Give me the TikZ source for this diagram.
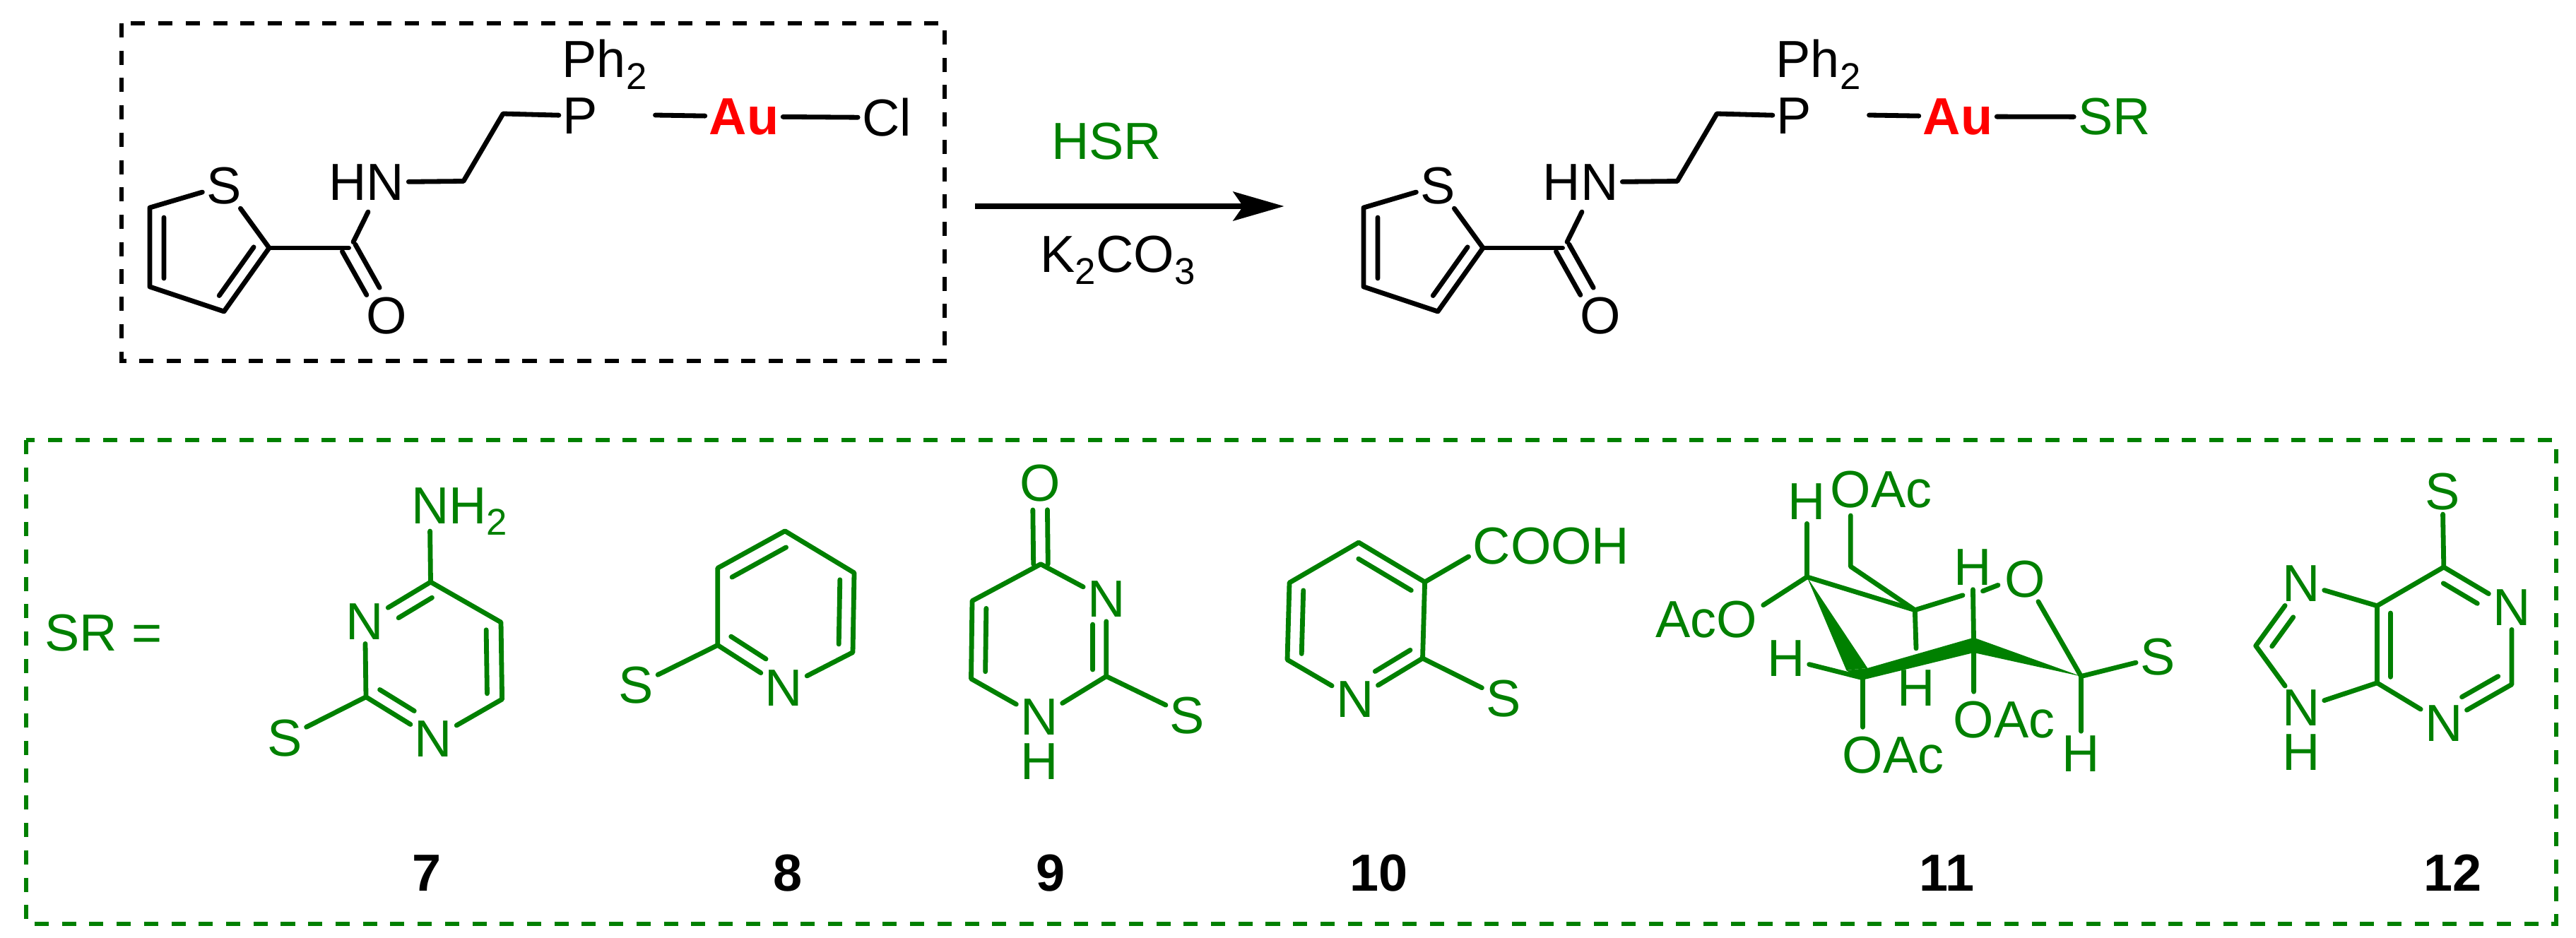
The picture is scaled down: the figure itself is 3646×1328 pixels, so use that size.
\documentclass[tikz,border=0pt]{standalone}
\usepackage{fontspec}
\setmainfont{Liberation Sans}
\usetikzlibrary{calc,arrows.meta}
\definecolor{srgreen}{HTML}{008000}
\def\labelfont{\fontsize{21}{25}\selectfont}
\def\lowidx#1{\raisebox{-.165cm}{\fontsize{15}{15}\selectfont #1}}
% second line of a double bond, on the left of a->b: (a)(b)(offset:cut at a:cut at b)
\def\innerbond(#1)(#2)(#3:#4:#5){\draw[bond] ($(#1)!#4!(#2)!#3!90:(#2)$) -- ($(#2)!#5!(#1)!#3!-90:(#1)$);}
\tikzset{
	bond/.style={line width=.068cm, line cap=round, line join=round},
	atom/.style={inner sep=1.5pt, font=\labelfont},
	chain/.style={inner sep=0pt, font=\labelfont, anchor=base west},
	tag/.style={inner sep=0pt, font=\labelfont\bfseries, anchor=base, text=black},
	framebox/.style={line width=.062cm, dash pattern=on .2cm off .187cm}
}
\def\ligand#1{
	\node[atom] (#1s) at (317,263) {S};
	\coordinate (#1c5) at (212,294);
	\coordinate (#1c4) at (212,406);
	\coordinate (#1c3) at (317,441);
	\coordinate (#1c2) at (381,351);
	\draw[bond] (#1s) -- (#1c5) -- (#1c4) -- (#1c3) -- (#1c2) -- (#1s);
	\innerbond(#1c5)(#1c4)(.2cm:.125:.107);
	\innerbond(#1c3)(#1c2)(.185cm:.13:.106);
	\coordinate (#1co) at (493.6,351);
	\coordinate (#1coa) at (500,342.6);
	\coordinate (#1nhe) at (521,300);
	\node[atom] (#1o) at (547.4,447) {O};
	\draw[bond] (#1c2) -- (#1co);
	\innerbond(#1co)(#1o)(.105cm:0:.36);
	\innerbond(#1o)(#1co)(.105cm:.36:0);
	\draw[bond] (#1coa) -- (#1nhe);
	\node[atom] (#1hn) at (519,258) {HN};
	\coordinate (#1ch) at (656,256.5);
	\coordinate (#1chb) at (712,161);
	\node[atom] (#1p) at (821.5,164) {P};
	\node[chain] (#1ph) at (795,110) {Ph\lowidx{2}};
	\draw[bond] (#1hn) -- (#1ch) -- (#1chb) -- (#1p);
	\coordinate (#1pe) at (927.5,163);
	\node[atom, text=red, font=\labelfont\bfseries] (#1au) at (1053,165) {Au};
	\draw[bond] (#1pe) -- (#1au);
}

\begin{document}
\begin{tikzpicture}[x=.01cm, y=-.01cm]
	%%%%% START %%%%%
	\useasboundingbox (0,0) rectangle (3646,1328);

	\draw[framebox] (172,33) rectangle (1337,511);

	\ligand{l}
	\node[atom] (cl) at (1255,166.5) {Cl};
	\draw[bond] (lau) -- (cl);

	\coordinate (arrowa) at (1380,292);
	\coordinate (arrowb) at (1817.5,292);
	\draw[line width=.075cm, -{Stealth[length=.72cm, width=.41cm, inset=.14cm]}] (arrowa) -- (arrowb);
	\node[chain, anchor=base, text=srgreen] (hsr) at (1566,225.5) {HSR};
	\node[chain, anchor=base] (base) at (1582,386) {K\lowidx{2}CO\lowidx{3}};

	\begin{scope}[xshift=17.17cm]
		\ligand{r}
	\end{scope}
	\node[atom, text=srgreen] (sr) at (2992.5,165.5) {SR};
	\draw[bond] (rau) -- (sr);

	\begin{scope}[color=srgreen]
		\draw[framebox] (37,623) rectangle (3617.6,1308);
		\node[chain] (eq) at (63,921) {SR =};

		% 7
		\node[chain] (a7) at (581.5,741) {NH\lowidx{2}};
		\coordinate (a7e) at (608.6,752);
		\coordinate (c74) at (609.5,824);
		\coordinate (c75) at (709,881);
		\coordinate (c76) at (710.6,990);
		\coordinate (c72) at (518,986.7);
		\node[atom] (n71) at (613.6,1045.7) {N};
		\node[atom] (n73) at (516.6,880) {N};
		\node[atom] (s7) at (403,1044.8) {S};
		\draw[bond] (a7e) -- (c74);
		\draw[bond] (n73) -- (c74) -- (c75) -- (c76) -- (n71) -- (c72) -- (n73);
		\draw[bond] (c72) -- (s7);
		\innerbond(c76)(c75)(.21cm:.077:.096);
		\innerbond(c74)(n73)(.2cm:.09:.4);
		\innerbond(c72)(n71)(.19cm:.1:.39);

		% 8
		\coordinate (c83) at (1111,751.8);
		\coordinate (c84) at (1209,811);
		\coordinate (c85) at (1207,923.6);
		\coordinate (c82) at (1015.8,913.4);
		\coordinate (c81) at (1015.8,804.3);
		\node[atom] (n8) at (1109.5,973.7) {N};
		\node[atom] (s8) at (900.5,970.5) {S};
		\draw[bond] (n8) -- (c85) -- (c84) -- (c83) -- (c81) -- (c82) -- (n8);
		\draw[bond] (c82) -- (s8);
		\innerbond(c83)(c81)(.21cm:.09:.106);
		\innerbond(c85)(c84)(.2cm:.1:.09);
		\innerbond(c82)(n8)(.205cm:.083:.39);

		% 9
		\node[atom] (o9) at (1471.7,684) {O};
		\coordinate (c94) at (1473,798.7);
		\coordinate (c95) at (1376,850.7);
		\coordinate (c96) at (1374.5,961);
		\coordinate (c92) at (1565.8,957.5);
		\node[atom] (n91) at (1471,1015.5) {N};
		\node[atom, inner sep=0pt] (h9) at (1471,1078) {H};
		\node[atom] (n93) at (1565.8,848.4) {N};
		\node[atom] (s9) at (1680.6,1013) {S};
		\draw[bond] (n93) -- (c94) -- (c95) -- (c96) -- (n91) -- (c92) -- (n93);
		\draw[bond] (c92) -- (s9);
		\innerbond(c94)(o9)(.103cm:0:.33);
		\innerbond(o9)(c94)(.103cm:.33:0);
		\innerbond(c95)(c96)(.2cm:.094:.095);
		\innerbond(c92)(n93)(.19cm:.087:.327);

		% 10
		\coordinate (c104) at (1923,768);
		\coordinate (c103) at (2016.6,824);
		\coordinate (c102) at (2013.5,932);
		\coordinate (c106) at (1822,934);
		\coordinate (c105) at (1825,825);
		\coordinate (a10e) at (2078.6,788);
		\node[atom] (n10) at (1917.8,990) {N};
		\node[atom] (s10) at (2128,989) {S};
		\node[chain] (a10) at (2084,798.7) {COOH};
		\draw[bond] (n10) -- (c102) -- (c103) -- (c104) -- (c105) -- (c106) -- (n10);
		\draw[bond] (c102) -- (s10);
		\draw[bond] (c103) -- (a10e);
		\innerbond(c103)(c104)(.2cm:.096:.107);
		\innerbond(c105)(c106)(.2cm:.095:.083);
		\innerbond(n10)(c102)(.19cm:.4:.08);

		% 11
		\coordinate (c11a) at (2557.5,816.8);
		\coordinate (c11b) at (2710.3,863.7);
		\coordinate (c11c) at (2636.5,959.8);
		\coordinate (c11d) at (2793.6,913.4);
		\coordinate (c11e) at (2945.5,957.5);
		\coordinate (c11f) at (2619.3,802);
		\fill (c11a) -- (2613.3,949) -- (2643.3,945.9) -- cycle;
		\fill (2643.3,945.9) -- (2793.6,902.7) -- (2793.6,924) -- (2634.8,963) -- (2613.3,949) -- cycle;
		\fill (2793.6,902.7) -- (c11e) -- (2793.6,924) -- cycle;
		\node[atom] (h11a) at (2557.5,710) {H};
		\node[chain] (oac11a) at (2590,718.8) {OAc};
		\coordinate (oac11ae) at (2619.3,730);
		\node[chain] (oac11b) at (2343,902.7) {AcO};
		\coordinate (oac11be) at (2495.7,856.7);
		\node[atom] (h11b) at (2792,803.3) {H};
		\node[atom] (o11) at (2866.5,819.6) {O};
		\node[atom] (h11c) at (2528,932.4) {H};
		\node[atom] (h11d) at (2712,973.7) {H};
		\node[atom] (s11) at (3053.7,930.5) {S};
		\node[atom] (h11e) at (2945.5,1066.6) {H};
		\node[chain] (oac11c) at (2764,1044.8) {OAc};
		\coordinate (oac11ce) at (2793.6,979.3);
		\node[chain] (oac11d) at (2607,1094.4) {OAc};
		\coordinate (oac11de) at (2636.5,1029.4);
		\coordinate (c11be) at (2778,842.8);
		\coordinate (o11s) at (2806.4,836.8);
		\coordinate (o11e) at (2828,828.4);
		\coordinate (c11bd) at (2712,918);
		\draw[bond] (c11a) -- (h11a);
		\draw[bond] (c11a) -- (oac11be);
		\draw[bond] (c11a) -- (c11b) -- (c11be);
		\draw[bond] (o11s) -- (o11e);
		\draw[bond] (oac11ae) -- (c11f) -- (c11b) -- (c11bd);
		\draw[bond] (h11b) -- (c11d) -- (oac11ce);
		\draw[bond] (c11e) -- (o11);
		\draw[bond] (c11c) -- (h11c);
		\draw[bond] (c11c) -- (oac11de);
		\draw[bond] (c11e) -- (s11);
		\draw[bond] (c11e) -- (h11e);

		% 12
		\node[atom] (s12) at (3457,696) {S};
		\coordinate (c126) at (3458.8,802.9);
		\coordinate (c125) at (3364.4,857.7);
		\coordinate (c124) at (3364.4,966.8);
		\coordinate (c128) at (3192.7,914.3);
		\coordinate (c122) at (3555,969);
		\node[atom] (n127) at (3257,826) {N};
		\node[atom] (n129) at (3257,1002.5) {N};
		\node[atom, inner sep=0pt] (h12) at (3257,1065) {H};
		\node[atom] (n121) at (3555,860) {N};
		\node[atom] (n123) at (3458.8,1023.9) {N};
		\draw[bond] (s12) -- (c126);
		\draw[bond] (n121) -- (c126) -- (c125) -- (c124) -- (n123) -- (c122) -- (n121);
		\draw[bond] (c125) -- (n127) -- (c128) -- (n129) -- (c124);
		\innerbond(n121)(c126)(.2cm:.4:.1);
		\innerbond(n123)(c122)(.195cm:.367:.1);
		\innerbond(c125)(c124)(.19cm:.094:.077);
		\innerbond(n127)(c128)(.19cm:.414:.118);

		% numbers
		\node[tag] (t7) at (604.5,1261.5) {7};
		\node[tag] (t8) at (1115,1261.5) {8};
		\node[tag] (t9) at (1487,1261.5) {9};
		\node[tag] (t10) at (1951.5,1261.5) {10};
		\node[tag] (t11) at (2755,1261.5) {11};
		\node[tag] (t12) at (3471.7,1261.5) {12};
	\end{scope}
	%%%%% END %%%%%
\end{tikzpicture}
\end{document}
